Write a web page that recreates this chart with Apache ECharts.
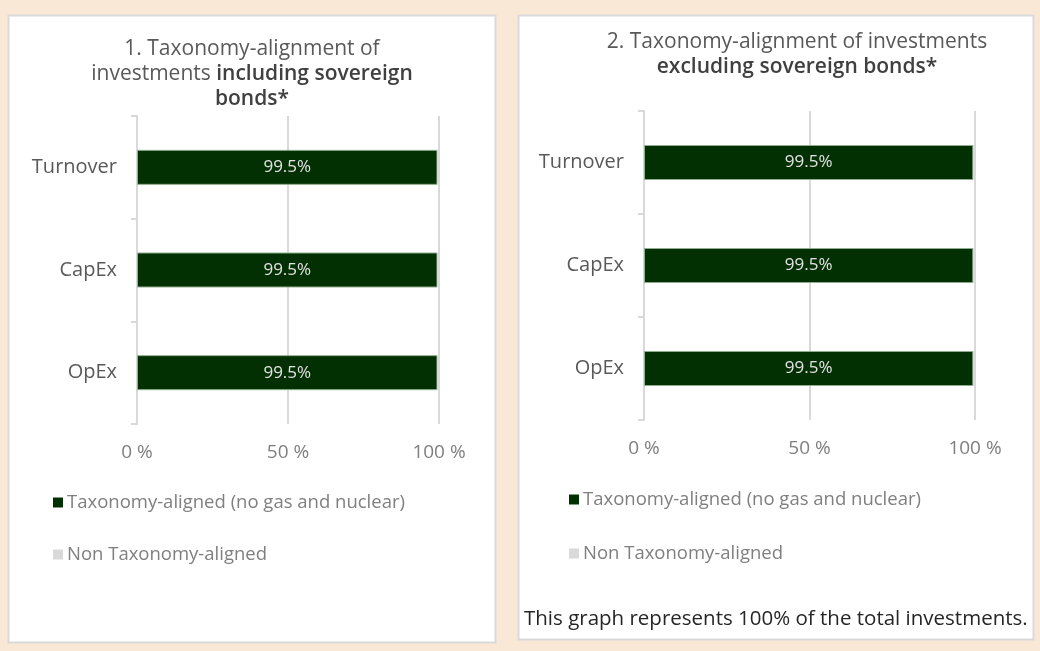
<!DOCTYPE html>
<html><head><meta charset="utf-8">
<script src="https://cdn.jsdelivr.net/npm/echarts@6/dist/echarts.min.js"></script>
<style>html,body{margin:0;padding:0;background:#fae8d6;}#c{width:1040px;height:651px;}</style>
</head><body><div id="c"></div>
<script>
const categories = ['Turnover', 'CapEx', 'OpEx'];
const alignedIncl = [99.5, 99.5, 99.5];
const nonAlignedIncl = [0.5, 0.5, 0.5];
const alignedExcl = [99.5, 99.5, 99.5];
const nonAlignedExcl = [0.5, 0.5, 0.5];
const xTicks = [0, 50, 100];
const seriesNames = ['Taxonomy-aligned (no gas and nuclear)', 'Non Taxonomy-aligned'];

const FONT = '"Open Sans", Lato, sans-serif';
const chart = echarts.init(document.getElementById('c'));

function yAxis(gi) {
  return {
    type: 'category', gridIndex: gi, data: categories, inverse: true,
    axisLine: { show: true, lineStyle: { color: '#d9d9d9', width: 2 } },
    axisTick: { show: true, length: 6, lineStyle: { color: '#d9d9d9', width: 2 } },
    axisLabel: { color: '#595959', fontSize: 20, fontFamily: FONT, margin: 20 }
  };
}
function xAxis(gi) {
  return {
    type: 'value', gridIndex: gi, min: xTicks[0], max: xTicks[xTicks.length - 1], interval: xTicks[1] - xTicks[0],
    axisLine: { show: false }, axisTick: { show: false },
    splitLine: { show: true, lineStyle: { color: '#d9d9d9', width: 2 } },
    axisLabel: { color: '#7f7f7f', fontSize: 19, fontFamily: FONT, margin: 19, formatter: '{value} %' }
  };
}
function bars(gi, a, n) {
  return [
    { name: seriesNames[0], type: 'bar', stack: 's' + gi, xAxisIndex: gi, yAxisIndex: gi, data: a, barWidth: 35,
      itemStyle: { color: '#033003', borderColor: '#8fae8f', borderWidth: 1 },
      label: { show: true, position: 'inside', color: '#e3e3e3', fontSize: 17, fontFamily: FONT,
        formatter: p => p.value + '%' } },
    { name: seriesNames[1], type: 'bar', stack: 's' + gi, xAxisIndex: gi, yAxisIndex: gi, data: n, barWidth: 35,
      itemStyle: { color: '#d9d9d9' } }
  ];
}
const titleRich = {
  b: { fontWeight: 600, color: '#404040', fontSize: 21, fontFamily: FONT, lineHeight: 25 }
};
const legendBase = {
  orient: 'vertical', itemWidth: 10, itemHeight: 10, icon: 'rect', padding: 0, data: seriesNames,
  itemStyle: { borderWidth: 0 },
  textStyle: { color: '#7f7f7f', fontSize: 18.5, fontFamily: FONT, padding: [0, 0, 0, -1] }
};
chart.setOption({
  backgroundColor: '#fae8d6',
  animation: false,
  graphic: [
    { type: 'rect', shape: { x: 8.5, y: 15.5, width: 487, height: 627 }, style: { fill: '#fff', stroke: '#d9d9d9', lineWidth: 2 }, z: -10 },
    { type: 'rect', shape: { x: 518.5, y: 15.5, width: 515, height: 624 }, style: { fill: '#fff', stroke: '#d9d9d9', lineWidth: 2 }, z: -10 },
    { type: 'text', left: 524, top: 609, style: { text: 'This graph represents 100% of the total investments.', fill: '#262626', font: '20.5px ' + FONT }, z: 10 }
  ],
  title: [
    { text: '1. Taxonomy-alignment of\ninvestments {b|including sovereign}\n{b|bonds*}', left: 252, top: 37, textAlign: 'center', padding: 0,
      textStyle: { color: '#595959', fontSize: 21, fontWeight: 'normal', fontFamily: FONT, lineHeight: 25, rich: titleRich } },
    { text: '2. Taxonomy-alignment of investments\n{b|excluding sovereign bonds*}', left: 797, top: 30, textAlign: 'center', padding: 0,
      textStyle: { color: '#595959', fontSize: 21, fontWeight: 'normal', fontFamily: FONT, lineHeight: 25, rich: titleRich } }
  ],
  legend: [
    Object.assign({}, legendBase, { left: 53, top: 493, itemGap: 33 }),
    Object.assign({}, legendBase, { left: 569, top: 490, itemGap: 35 })
  ],
  grid: [
    { left: 137, top: 116, width: 302, height: 308 },
    { left: 644, top: 111, width: 331, height: 309 }
  ],
  xAxis: [xAxis(0), xAxis(1)],
  yAxis: [yAxis(0), yAxis(1)],
  series: [...bars(0, alignedIncl, nonAlignedIncl), ...bars(1, alignedExcl, nonAlignedExcl)]
});
</script></body></html>
